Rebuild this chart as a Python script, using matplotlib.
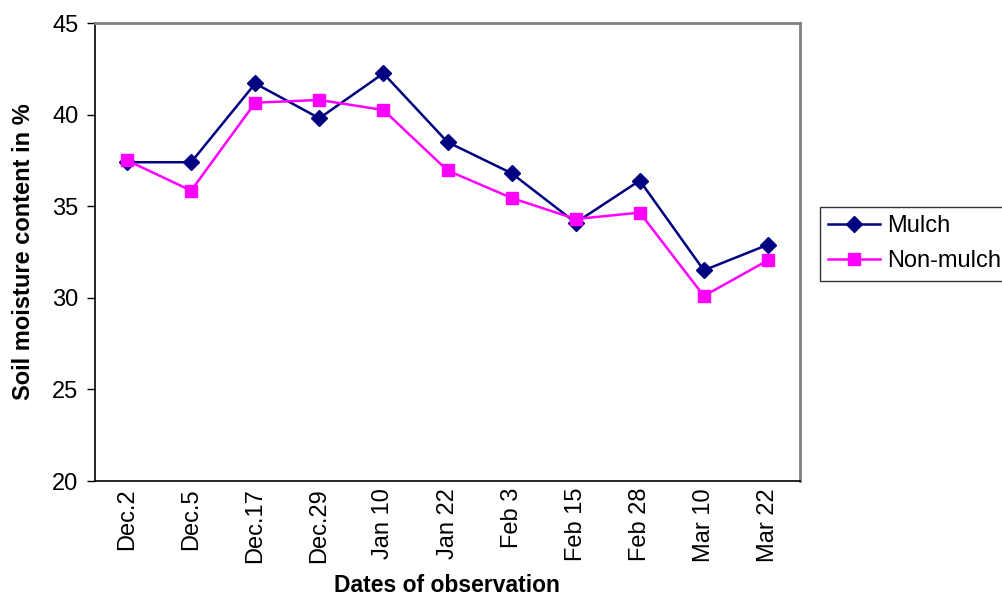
import matplotlib.pyplot as plt
import numpy as np

plt.rcParams['font.family'] = ['Liberation Sans', 'DejaVu Sans']

dates = ['Dec.2', 'Dec.5', 'Dec.17', 'Dec.29', 'Jan 10', 'Jan 22',
         'Feb 3', 'Feb 15', 'Feb 28', 'Mar 10', 'Mar 22']
mulch = [37.4, 37.4, 41.7, 39.8, 42.25, 38.5, 36.8, 34.1, 36.4, 31.5, 32.9]
non_mulch = [37.5, 35.85, 40.65, 40.8, 40.25, 36.95, 35.45, 34.3, 34.65, 30.1, 32.05]

fig = plt.figure(figsize=(10.02, 5.99), dpi=100)
ax = fig.add_axes([95/1002, 1-481/599, 705/1002, 458/599])

x = np.arange(len(dates))
ax.plot(x, mulch, color='#000080', lw=1.8, marker='D', ms=8.5, label='Mulch')
ax.plot(x, non_mulch, color='#FF00FF', lw=1.8, marker='s', ms=8.5, label='Non-mulch')

ax.set_xlim(-0.5, len(dates) - 0.5)
ax.set_ylim(20, 45)
ax.set_yticks(range(20, 46, 5))
ax.set_xticks(x)
ax.set_xticklabels(dates, rotation=90, fontsize=17)
ax.tick_params(axis='y', labelsize=17, length=6, width=1, pad=6)
ax.tick_params(axis='x', length=0, pad=5)

for s in ['top', 'right']:
    ax.spines[s].set_color('#808080')
    ax.spines[s].set_linewidth(2)
for s in ['left', 'bottom']:
    ax.spines[s].set_color('black')
    ax.spines[s].set_linewidth(1.2)

ax.set_ylabel('Soil moisture content in %', fontsize=17, fontweight='bold', labelpad=12)
# x label sits in the bottom margin below the rotated tick labels
fig.text(447/1002, 1-586/599, 'Dates of observation', fontsize=16.5,
         fontweight='bold', ha='center', va='center')

leg = fig.legend(loc='upper left', bbox_to_anchor=(820/1002, 1-207/599),
                 fontsize=17, frameon=True, fancybox=False, handlelength=2.2,
                 handletextpad=0.3, borderpad=0.35, labelspacing=0.55,
                 borderaxespad=0)
leg.get_frame().set_edgecolor('black')
leg.get_frame().set_linewidth(1)

fig.savefig('out.png', dpi=100)
